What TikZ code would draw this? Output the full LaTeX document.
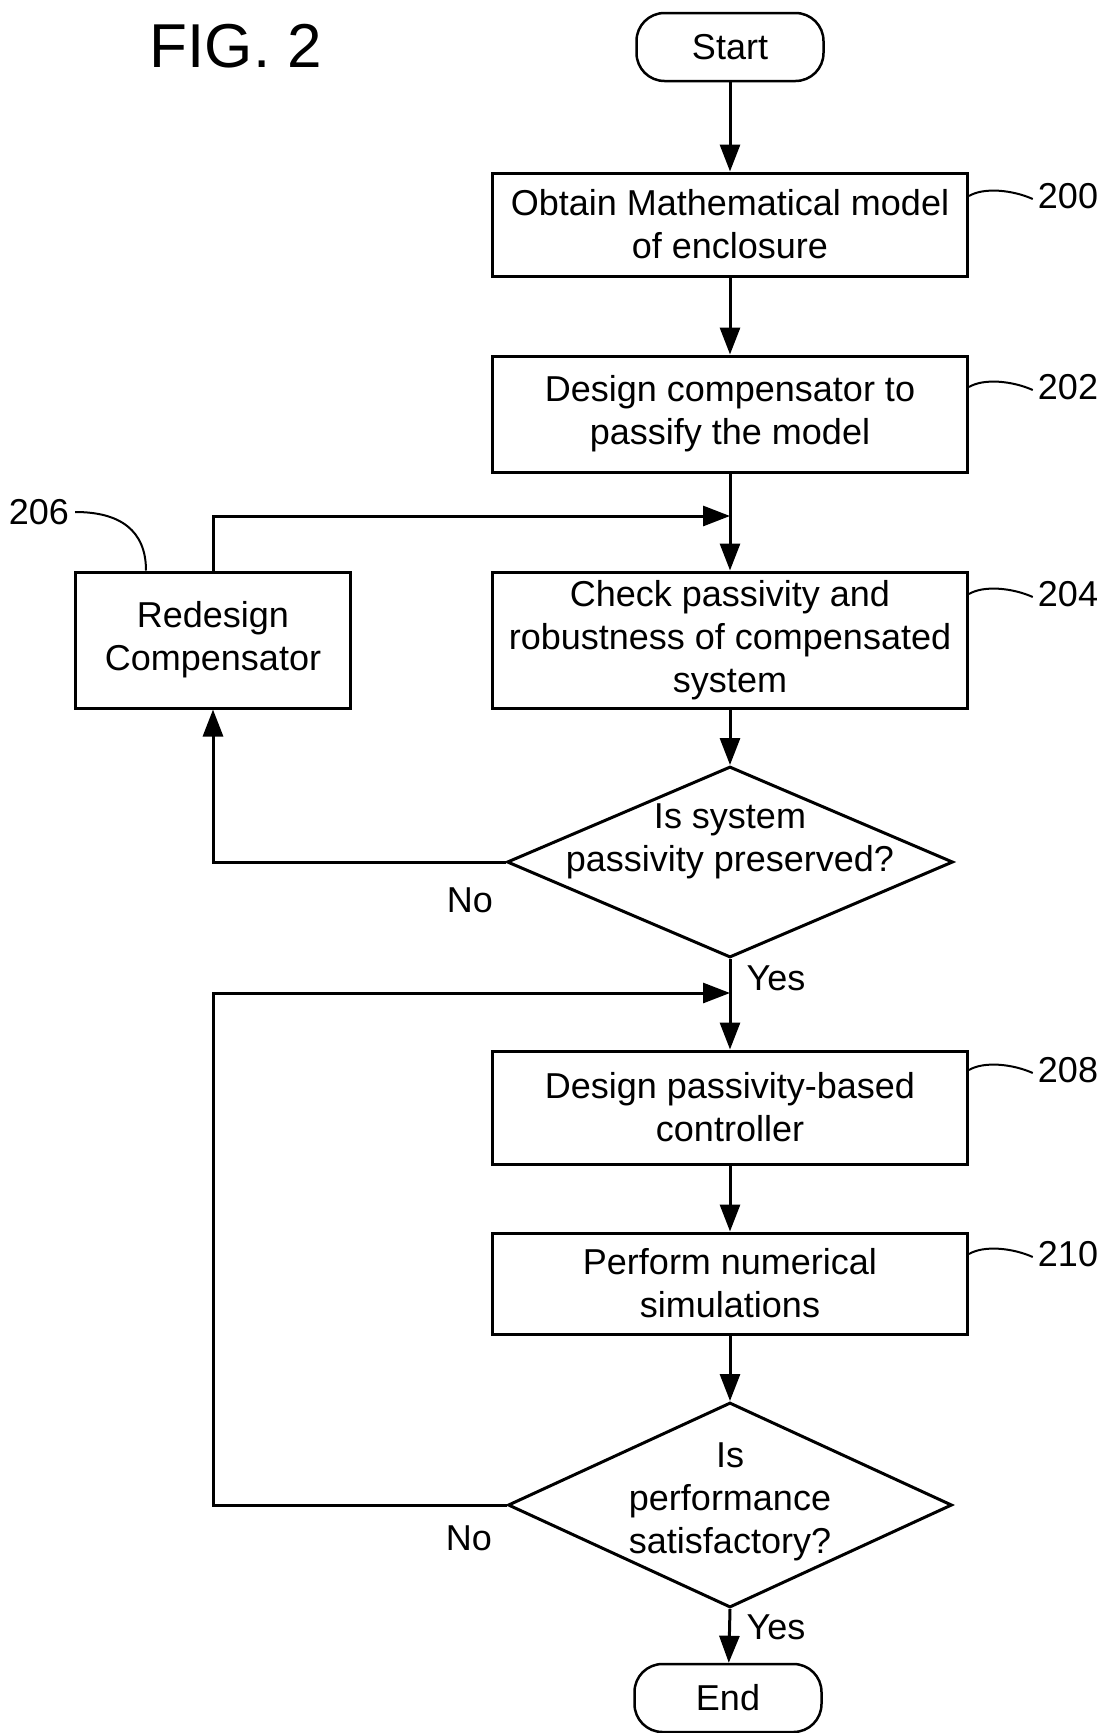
\documentclass[tikz,border=0pt]{standalone}
\usepackage{fontspec}
\setmainfont{Liberation Sans}
\usetikzlibrary{shapes.geometric,arrows.meta,calc}
\begin{document}
\begin{tikzpicture}[x=1pt,y=-1pt,
  every node/.style={font=\fontsize{36}{43}\selectfont},
  box/.style={draw, line width=3pt, minimum width=475pt, align=center, inner sep=0pt},
  term/.style={draw, line width=2.5pt, rounded corners=28pt, minimum width=187pt, minimum height=68pt, inner sep=0pt},
  dec/.style={draw, diamond, line width=3pt, inner sep=0pt},
  conn/.style={line width=3pt, -{Triangle[length=27pt,width=20pt]}},
  plain/.style={line width=3pt},
  lead/.style={line width=2pt},
  lbl/.style={inner sep=0pt, align=center}
]
\useasboundingbox (0,0) rectangle (1105,1733);
\node[lbl, font=\fontsize{62}{70}\selectfont] (fig) at (236,46) {FIG. 2};
\node[term] (start) at (730,47) {Start};
\node[box, minimum height=103pt] (b200) at (730,224.5) {Obtain Mathematical model\\of enclosure};
\node[box, minimum height=116pt] (b202) at (730,414) {Design compensator to\\passify the model};
\node[box, minimum height=136pt] (b204) at (730,640) {Check passivity and\\robustness of compensated\\system};
\node[box, minimum width=275pt, minimum height=136pt] (b206) at (213,640) {Redesign\\Compensator};
\node[dec, minimum width=446pt, minimum height=191pt] (d1) at (730,862) {};
\node[lbl] (d1t) at (730,841) {Is system\\passivity preserved?};
\node[box, minimum height=113pt] (b208) at (730,1107.5) {Design passivity-based\\controller};
\node[box, minimum height=101pt] (b210) at (730,1283.5) {Perform numerical\\simulations};
\node[dec, minimum width=444pt, minimum height=205pt] (d2) at (730,1505) {};
\node[lbl] (d2t) at (730,1502) {Is\\performance\\satisfactory?};
\node[term] (end) at (728,1698) {End};
\coordinate (m1) at (730,516);
\coordinate (m2) at (730,993);
\coordinate (k2) at (213,993);
\draw[conn] (start) -- (b200);
\draw[conn] (b200) -- (b202);
\draw[plain] (b202) -- (m1);
\draw[conn] (m1) -- (b204);
\draw[conn] (b204) -- (d1);
\draw[conn] (d1.west) -| (b206.south);
\draw[conn] (b206.north) |- (m1);
\draw[plain] (d1.south) -- (m2);
\draw[conn] (m2) -- (b208);
\draw[conn] (b208) -- (b210);
\draw[conn] (b210) -- (d2);
\draw[conn] (d2.south) -- (end);
\draw[conn] (d2.west) -| (k2) -- (m2);
\node[lbl] (no1) at (470,900) {No};
\node[lbl] (yes1) at (776,978) {Yes};
\node[lbl] (no2) at (469,1538) {No};
\node[lbl] (yes2) at (776,1627) {Yes};
\node[lbl] (n200) at (1068,196) {200};
\node[lbl] (n202) at (1068,387) {202};
\node[lbl] (n204) at (1068,594) {204};
\node[lbl] (n208) at (1068,1070) {208};
\node[lbl] (n210) at (1068,1254) {210};
\node[lbl] (n206) at (39,512) {206};
\foreach \b/\n in {b200/n200,b202/n202,b204/n204,b208/n208,b210/n210}{
  \draw[lead] (\b.east |- \n.west) .. controls +(15,-9) and +(-20,-9) .. ([xshift=-5pt,yshift=-3pt]\n.west);
}
\draw[lead] ([xshift=6pt]n206.east) .. controls +(45,0) and +(0,-40) .. ([xshift=-67pt]b206.north);
\end{tikzpicture}
\end{document}
